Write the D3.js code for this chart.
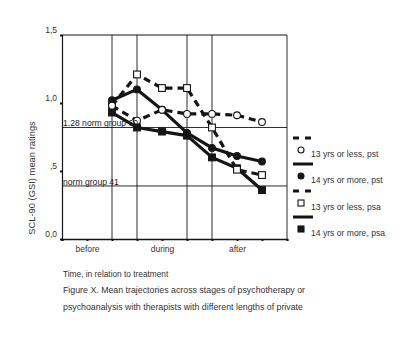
<!DOCTYPE html>
<html>
<head>
<meta charset="utf-8">
<script src="https://cdn.jsdelivr.net/npm/d3@7"></script>
<style>
  html, body { margin: 0; padding: 0; background: #fff; }
  svg { display: block; font-family: "Liberation Sans", Arial, sans-serif; }
</style>
</head>
<body>
<svg id="chart" width="400" height="340"></svg>
<script>
// Time positions along the treatment axis (0..9), stage labels and boundaries
const positions = [2, 3, 4, 5, 6, 7, 8];
const stageLabels = [{ pos: 1, text: "before" }, { pos: 4, text: "during" }, { pos: 7, text: "after" }];
const stageBoundaries = [2, 3, 5, 6, 9];
const xTickPositions = [0, 1, 2, 3, 4, 5, 6, 7, 8, 9];

// Mean GSI ratings per group
const lessPst = [0.98, 0.87, 0.95, 0.92, 0.92, 0.91, 0.86];
const morePst = [1.02, 1.10, 0.95, 0.78, 0.67, 0.61, 0.57];
const lessPsa = [0.98, 1.21, 1.11, 1.11, 0.82, 0.51, 0.47];
const morePsa = [0.93, 0.82, 0.79, 0.76, 0.60, 0.52, 0.36];

const yTicks = [0, 0.5, 1.0, 1.5];
const yTickLabels = ["0,0", ",5", "1,0", "1,5"];

const normValues = [0.82, 0.39];
const normLabels = ["1.28 norm group 60", "norm group 41"];

const seriesNames = ["13 yrs or less, pst", "14 yrs or more, pst", "13 yrs or less, psa", "14 yrs or more, psa"];

const series = [
  { name: seriesNames[0], values: lessPst, dashed: true, marker: "circle", filled: false },
  { name: seriesNames[1], values: morePst, dashed: false, marker: "circle", filled: true },
  { name: seriesNames[2], values: lessPsa, dashed: true, marker: "square", filled: false },
  { name: seriesNames[3], values: morePsa, dashed: false, marker: "square", filled: true }
];

const svg = d3.select("#chart");
const ink = "#151515";

const x = d3.scaleLinear().domain([0, 9]).range([62, 287]);
const y = d3.scaleLinear().domain([0, 1.5]).range([239, 35]);

// Frame and stage boundaries
const g = svg.append("g");
g.selectAll("line.vgrid").data(stageBoundaries).enter().append("line")
  .attr("x1", d => x(d)).attr("x2", d => x(d))
  .attr("y1", y(1.5)).attr("y2", y(0))
  .attr("stroke", ink).attr("stroke-width", 0.9);
g.append("line").attr("x1", x(0)).attr("x2", x(9)).attr("y1", y(1.5)).attr("y2", y(1.5))
  .attr("stroke", ink).attr("stroke-width", 1);

// Norm reference lines
normValues.forEach(v => {
  g.append("line").attr("x1", x(0)).attr("x2", x(9)).attr("y1", y(v)).attr("y2", y(v))
    .attr("stroke", ink).attr("stroke-width", 0.9);
});

// Y axis
const yAxis = d3.axisLeft(y).tickValues(yTicks).tickSize(2)
  .tickFormat((d, i) => yTickLabels[i]);
const ya = svg.append("g").attr("transform", `translate(${x(0)},0)`).call(yAxis);
ya.select(".domain").attr("stroke", ink).attr("stroke-width", 1.2);
ya.selectAll(".tick line").attr("stroke", ink).attr("stroke-width", 2);
ya.selectAll(".tick text").attr("font-size", 8.5).attr("fill", "#333")
  .attr("x", -5).attr("dy", "-0.3em").style("font-family", "Liberation Sans, Arial, sans-serif");

// X axis with stage labels
const xAxis = d3.axisBottom(x).tickValues(xTickPositions).tickSize(2)
  .tickFormat(d => { const s = stageLabels.find(l => l.pos === d); return s ? s.text : ""; });
const xa = svg.append("g").attr("transform", `translate(0,${y(0)})`).call(xAxis);
xa.select(".domain").attr("stroke", ink).attr("stroke-width", 1.6);
xa.selectAll(".tick line").attr("stroke", ink).attr("stroke-width", 2);
xa.selectAll(".tick text").attr("font-size", 8.5).attr("fill", "#333")
  .attr("y", 7).style("font-family", "Liberation Sans, Arial, sans-serif");

// Series lines
const line = d3.line().x((d, i) => x(positions[i])).y(d => y(d));
function drawMarker(sel, s, cx, cy, r) {
  if (s.marker === "circle") {
    sel.append("circle").attr("cx", cx).attr("cy", cy).attr("r", r)
      .attr("fill", s.filled ? ink : "#fff").attr("stroke", ink).attr("stroke-width", 1.1);
  } else {
    sel.append("rect").attr("x", cx - r).attr("y", cy - r).attr("width", 2 * r).attr("height", 2 * r)
      .attr("fill", s.filled ? ink : "#fff").attr("stroke", ink).attr("stroke-width", 1.1);
  }
}
const drawOrder = [3, 1, 2, 0];
drawOrder.forEach(k => {
  const s = series[k];
  const sg = svg.append("g");
  sg.append("path").datum(s.values).attr("d", line)
    .attr("fill", "none").attr("stroke", ink).attr("stroke-width", 3.2)
    .attr("stroke-linejoin", "round")
    .attr("stroke-dasharray", s.dashed ? "7,5" : null);
  s.values.forEach((v, i) => drawMarker(sg, s, x(positions[i]), y(v), 3.4));
});

// Norm labels sit above the series
normValues.forEach((v, i) => {
  svg.append("text").attr("x", x(0) + 1).attr("y", y(v) - 1)
    .attr("font-size", 8.6).attr("fill", "#222").text(normLabels[i]);
});

// Legend
const legend = svg.append("g");
const legendTop = [138, 164, 191, 217];
series.forEach((s, i) => {
  const ly = legendTop[i];
  legend.append("line").attr("x1", 293).attr("x2", 313).attr("y1", ly).attr("y2", ly)
    .attr("stroke", ink).attr("stroke-width", 3)
    .attr("stroke-dasharray", s.dashed ? "6,6" : null);
  drawMarker(legend, s, 301, ly + 12, 3);
  legend.append("text").attr("x", 311).attr("y", ly + 19)
    .attr("font-size", 8.6).attr("fill", "#333").text(s.name);
});

// Axis titles and caption
svg.append("text").attr("transform", `translate(35,178) rotate(-90)`)
  .attr("text-anchor", "middle").attr("font-size", 9.4).attr("fill", "#333")
  .text("SCL-90 (GSI) mean ratings");
svg.append("text").attr("x", 63).attr("y", 277).attr("font-size", 8.3).attr("fill", "#333")
  .text("Time, in relation to treatment");
svg.append("text").attr("x", 63).attr("y", 293).attr("font-size", 8.8).attr("fill", "#333")
  .text("Figure X. Mean trajectories across stages of psychotherapy or");
svg.append("text").attr("x", 63).attr("y", 310).attr("font-size", 8.8).attr("fill", "#333")
  .text("psychoanalysis with therapists with different lengths of private");
</script>
</body>
</html>
